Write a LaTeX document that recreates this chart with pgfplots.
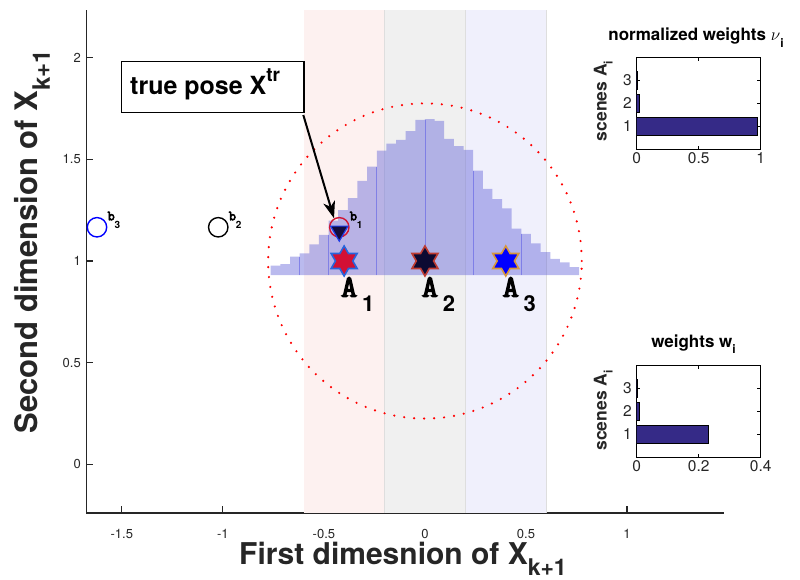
\documentclass[border=0pt]{standalone}
\usepackage{pgfplots}
\pgfplotsset{compat=1.18}
\usepackage{fontspec}
\setmainfont{TeX Gyre Heros}
\newfontfamily\courb{Latin Modern Mono}[FakeBold=4.5]
\usetikzlibrary{arrows.meta}

\definecolor{axgray}{rgb}{0.15,0.15,0.15}
\definecolor{bandpink}{RGB}{253,241,240}
\definecolor{bandgray}{RGB}{240,240,240}
\definecolor{bandblue}{RGB}{240,240,252}
\definecolor{bandedge}{RGB}{222,222,222}
\definecolor{histblue}{rgb}{0.4,0.4,0.85}
\definecolor{histline}{rgb}{0.42,0.42,0.9}
\definecolor{parulaA}{rgb}{0.2081,0.1663,0.5292}
\definecolor{starred}{RGB}{210,16,52}
\definecolor{starblueedge}{RGB}{40,100,220}
\definecolor{navy}{RGB}{12,10,50}
\definecolor{brownedge}{RGB}{190,60,50}
\definecolor{pureblue}{RGB}{0,0,255}
\definecolor{orangeedge}{RGB}{215,150,60}
\definecolor{circred}{RGB}{210,20,50}
\definecolor{trinavy}{RGB}{20,12,60}
\definecolor{triblue}{RGB}{30,60,230}

\pgfdeclareplotmark{hexagram}{%
  \pgfpathmoveto{\pgfpointpolar{90}{\pgfplotmarksize}}%
  \pgfpathlineto{\pgfpointpolar{120}{0.57735\pgfplotmarksize}}%
  \pgfpathlineto{\pgfpointpolar{150}{\pgfplotmarksize}}%
  \pgfpathlineto{\pgfpointpolar{180}{0.57735\pgfplotmarksize}}%
  \pgfpathlineto{\pgfpointpolar{210}{\pgfplotmarksize}}%
  \pgfpathlineto{\pgfpointpolar{240}{0.57735\pgfplotmarksize}}%
  \pgfpathlineto{\pgfpointpolar{270}{\pgfplotmarksize}}%
  \pgfpathlineto{\pgfpointpolar{300}{0.57735\pgfplotmarksize}}%
  \pgfpathlineto{\pgfpointpolar{330}{\pgfplotmarksize}}%
  \pgfpathlineto{\pgfpointpolar{0}{0.57735\pgfplotmarksize}}%
  \pgfpathlineto{\pgfpointpolar{30}{\pgfplotmarksize}}%
  \pgfpathlineto{\pgfpointpolar{60}{0.57735\pgfplotmarksize}}%
  \pgfpathclose
  \pgfusepathqfillstroke
}

\newcommand{\blab}[1]{{\courb\fontsize{14}{14}\selectfont b}\raisebox{-8pt}{\bfseries\fontsize{10}{10}\selectfont #1}}
\newcommand{\alab}[1]{{\courb\fontsize{31}{31}\selectfont A}\hspace{5pt}\raisebox{-15pt}{\bfseries\fontsize{22}{22}\selectfont #1}}

\begin{document}
\begin{tikzpicture}
\begin{axis}[
  at={(86.3pt,66pt)}, anchor=south west,
  scale only axis, width=637.7pt, height=503pt,
  xmin=-1.676, xmax=1.480, ymin=-0.241, ymax=2.236,
  axis lines*=left,
  axis line style={axgray, line width=1.1pt},
  tick align=inside, major tick length=7pt,
  tick style={axgray, line width=1.1pt},
  xtick={-1.5,-1,-0.5,0,0.5,1}, xticklabels={-1.5,-1,-0.5,0,0.5,1},
  ytick={0,0.5,1,1.5,2}, yticklabels={0,0.5,1,1.5,2},
  tick label style={font=\fontsize{13}{13}\selectfont, text=axgray},
  xticklabel style={inner sep=0pt, yshift=-16.5pt},
  yticklabel style={xshift=-2pt},
  clip=false,
  unbounded coords=jump,
]
% background bands
\addplot[draw=none, fill=bandpink] coordinates {(-0.6,-0.241) (-0.2,-0.241) (-0.2,2.236) (-0.6,2.236)};
\addplot[draw=none, fill=bandgray] coordinates {(-0.2,-0.241) (0.2,-0.241) (0.2,2.236) (-0.2,2.236)};
\addplot[draw=none, fill=bandblue] coordinates {(0.2,-0.241) (0.6,-0.241) (0.6,2.236) (0.2,2.236)};
\addplot[bandedge, line width=0.6pt] coordinates {(-0.2,-0.241) (-0.2,2.236) (-0.2,nan) (0.2,-0.241) (0.2,2.236) (0.2,nan) (0.6,-0.241) (0.6,2.236)};
% histogram
\addplot[const plot mark left, draw=none, fill=histblue, fill opacity=0.45] coordinates {
(-0.7632,0.931) (-0.7632,0.977) (-0.7155,0.985) (-0.6678,1.021) (-0.6201,1.038)
(-0.5724,1.082) (-0.5247,1.128) (-0.4770,1.199) (-0.4293,1.251) (-0.3816,1.310)
(-0.3339,1.394) (-0.2862,1.465) (-0.2385,1.543) (-0.1908,1.578) (-0.1431,1.596)
(-0.0954,1.640) (-0.0477,1.695) (0,1.699) (0.0477,1.690) (0.0954,1.601)
(0.1431,1.566) (0.1908,1.547) (0.2385,1.445) (0.2862,1.355) (0.3339,1.305)
(0.3816,1.259) (0.4293,1.159) (0.4770,1.133) (0.5247,1.087) (0.5724,1.044)
(0.6201,1.010) (0.6678,0.993) (0.7155,0.970) (0.7632,0.970) (0.7632,0.931)};
\addplot[histline, line width=0.7pt, opacity=0.7] coordinates {
(-0.6201,0.931) (-0.6201,1.021) (-0.6201,nan)
(-0.4770,0.931) (-0.4770,1.128) (-0.4770,nan)
(-0.2385,0.931) (-0.2385,1.465) (-0.2385,nan)
(0,0.931) (0,1.695) (0,nan)
(0.2385,0.931) (0.2385,1.445) (0.2385,nan)
(0.4770,0.931) (0.4770,1.133)};
% red dotted circle
\draw[red, line width=2.4pt, line cap=round, dash pattern=on 0pt off 10pt] (axis cs:0,1) circle [radius=0.776];
% stars
\addplot[only marks, mark=hexagram, mark size=15pt, mark options={fill=starred, draw=starblueedge, line width=1.6pt}] coordinates {(-0.4,1)};
\addplot[only marks, mark=hexagram, mark size=15pt, mark options={fill=navy, draw=brownedge, line width=1.6pt}] coordinates {(0,1)};
\addplot[only marks, mark=hexagram, mark size=15pt, mark options={fill=pureblue, draw=orangeedge, line width=1.6pt}] coordinates {(0.4,1)};
% b markers
\addplot[only marks, mark=o, mark size=9.7pt, mark options={draw=circred, line width=1.4pt}] coordinates {(-0.424,1.166)};
\addplot[only marks, mark=o, mark size=9.7pt, mark options={draw=black, line width=1.4pt}] coordinates {(-1.023,1.166)};
\addplot[only marks, mark=o, mark size=9.7pt, mark options={draw=blue, line width=1.4pt}] coordinates {(-1.623,1.166)};
\addplot[only marks, mark=triangle*, mark size=10pt, mark options={rotate=180, fill=trinavy, draw=triblue, line width=1.2pt}] coordinates {(-0.424,1.147)};
% labels
\node[anchor=base west, inner sep=0] at (axis cs:-0.373,1.2005) {\blab{1}};
\node[anchor=base west, inner sep=0] at (axis cs:-0.972,1.2005) {\blab{2}};
\node[anchor=base west, inner sep=0] at (axis cs:-1.572,1.2005) {\blab{3}};
\node[anchor=base west, inner sep=0] at (axis cs:-0.416,0.824) {\alab{1}};
\node[anchor=base west, inner sep=0] at (axis cs:-0.016,0.824) {\alab{2}};
\node[anchor=base west, inner sep=0] at (axis cs:0.384,0.824) {\alab{3}};
\end{axis}

% inset 1: normalized weights
\begin{axis}[
  at={(636.7pt,429.7pt)}, anchor=south west,
  scale only axis, width=124pt, height=92pt,
  xmin=0, xmax=1, ymin=0, ymax=4,
  xtick={0,0.5,1}, xticklabels={0,0.5,1},
  ytick={1,2,3}, yticklabels={1,2,3},
  tick align=inside, major tick length=3.5pt,
  axis line style={black, line width=1pt},
  tick style={black, line width=0.8pt},
  tick label style={font=\fontsize{15.5}{15.5}\selectfont, text=axgray},
  yticklabel style={xshift=-1.5pt},
]
\addplot[xbar, bar width=0.8, fill=parulaA, draw=black, line width=1pt] coordinates {(0.978,1) (0.021,2) (0.003,3)};
\end{axis}

% inset 2: weights
\begin{axis}[
  at={(636.7pt,121.7pt)}, anchor=south west,
  scale only axis, width=124pt, height=92pt,
  xmin=0, xmax=0.4, ymin=0, ymax=4,
  xtick={0,0.2,0.4}, xticklabels={0,0.2,0.4},
  ytick={1,2,3}, yticklabels={1,2,3},
  tick align=inside, major tick length=3.5pt,
  axis line style={black, line width=1pt},
  tick style={black, line width=0.8pt},
  tick label style={font=\fontsize{15.5}{15.5}\selectfont, text=axgray},
  yticklabel style={xshift=-1.5pt},
]
\addplot[xbar, bar width=0.8, fill=parulaA, draw=black, line width=1pt] coordinates {(0.232,1) (0.0075,2) (0.001,3)};
\end{axis}

% titles and labels
\node[anchor=base, inner sep=0, font=\bfseries\fontsize{17}{17}\selectfont] at (696pt,538.3pt) {normalized weights $\nu$\raisebox{-7pt}{\fontsize{12}{12}\selectfont i}};
\node[anchor=base, inner sep=0, font=\bfseries\fontsize{17}{17}\selectfont] at (693.5pt,232pt) {weights w\raisebox{-6pt}{\fontsize{12}{12}\selectfont i}};
\node[rotate=90, anchor=base, inner sep=0, text=axgray, font=\bfseries\fontsize{17.5}{17.5}\selectfont] at (606.7pt,478pt) {scenes A\raisebox{-6pt}{\fontsize{12}{12}\selectfont i}};
\node[rotate=90, anchor=base, inner sep=0, text=axgray, font=\bfseries\fontsize{17.5}{17.5}\selectfont] at (606.7pt,168.5pt) {scenes A\raisebox{-6pt}{\fontsize{12}{12}\selectfont i}};
\node[anchor=base, inner sep=0, text=axgray, font=\bfseries\fontsize{30}{30}\selectfont] at (403pt,14.5pt) {First dimesnion of X\raisebox{-11pt}{\fontsize{23}{23}\selectfont k+1}};
\node[rotate=90, anchor=base, inner sep=0, text=axgray, font=\bfseries\fontsize{31}{31}\selectfont] at (37pt,337.5pt) {Second dimension of X\raisebox{-13pt}{\fontsize{24}{24}\selectfont k+1}};

% true pose annotation
\draw[black, line width=1.2pt, fill=white] (121.7pt,466.3pt) rectangle (304pt,517.3pt);
\node[anchor=base west, inner sep=0, font=\bfseries\fontsize{25}{25}\selectfont] at (130pt,484pt) {true pose X\raisebox{13pt}{\fontsize{19}{19}\selectfont tr}};
\draw[line width=2pt, -{Stealth[length=17pt,width=12pt,inset=5pt]}] (303.3pt,464pt) -- (334pt,360.7pt);

\pgfresetboundingbox
\path[use as bounding box] (0pt,0pt) rectangle (800pt,579pt);
\end{tikzpicture}
\end{document}
